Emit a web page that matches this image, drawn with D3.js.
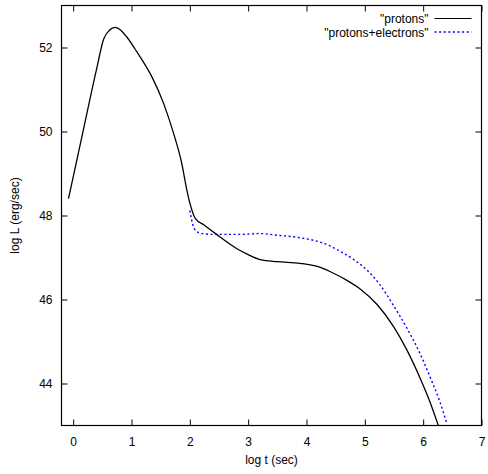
<!DOCTYPE html>
<html>
<head>
<meta charset="utf-8">
<script src="https://cdn.jsdelivr.net/npm/d3@7"></script>
<style>
  body { margin: 0; background: #fff; }
  text { font-family: "Liberation Sans", Arial, sans-serif; font-size: 12px; fill: #000; }
</style>
</head>
<body>
<div id="chart"></div>
<script>
// curve data
var protonsT = [-0.08, 0.15, 0.41, 0.52, 0.62, 0.72, 0.8, 0.92, 1.09, 1.35, 1.55, 1.72, 1.86, 1.95, 2.0, 2.09, 2.25, 2.43, 2.83, 3.0, 3.21, 3.5, 3.89, 4.2, 4.41, 4.7, 4.92, 5.21, 5.49, 5.72, 5.95, 6.12, 6.26];
var protonsL = [48.4, 49.88, 51.54, 52.19, 52.41, 52.48, 52.43, 52.25, 51.9, 51.3, 50.67, 49.96, 49.25, 48.6, 48.3, 47.94, 47.77, 47.58, 47.19, 47.07, 46.95, 46.9, 46.86, 46.78, 46.66, 46.45, 46.25, 45.88, 45.36, 44.8, 44.12, 43.55, 43.0];

var electronsT = [2.0, 2.06, 2.12, 2.18, 2.4, 2.86, 3.2, 3.5, 3.89, 4.2, 4.41, 4.6, 4.8, 5.03, 5.26, 5.49, 5.72, 5.95, 6.12, 6.29, 6.41];
var electronsL = [48.12, 47.74, 47.62, 47.58, 47.55, 47.55, 47.57, 47.53, 47.47, 47.38, 47.27, 47.13, 46.96, 46.71, 46.35, 45.86, 45.32, 44.7, 44.15, 43.55, 43.03];

var xTicks = [0, 1, 2, 3, 4, 5, 6, 7];
var yTicks = [44, 46, 48, 50, 52];
var seriesNames = ['"protons"', '"protons+electrons"'];

// svg area
var svgWidth = 488;
var svgHeight = 474;

var margin = { top: 5.5, bottom: 48.5, right: 6.5, left: 61.5 };
var width = svgWidth - margin.left - margin.right;
var height = svgHeight - margin.top - margin.bottom;

var svg = d3.select('#chart')
    .append('svg')
    .attr('width', svgWidth)
    .attr('height', svgHeight);

var chartGroup = svg.append('g')
    .attr('transform', `translate(${margin.left}, ${margin.top})`);

var x = d3.scaleLinear().domain([-0.2, 7]).range([0, width]);
var y = d3.scaleLinear().domain([43, 53]).range([height, 0]);

// ticks point inward, mirrored on the top and right
var tickLen = 6;
chartGroup.append('g')
    .attr('transform', `translate(0, ${height})`)
    .call(d3.axisBottom(x).tickValues(xTicks).tickSizeInner(-tickLen).tickSizeOuter(0).tickPadding(12))
    .call(g => g.select('.domain').remove());

chartGroup.append('g')
    .call(d3.axisTop(x).tickValues(xTicks).tickSizeInner(-tickLen).tickSizeOuter(0).tickFormat(''))
    .call(g => g.select('.domain').remove());

chartGroup.append('g')
    .call(d3.axisLeft(y).tickValues(yTicks).tickSizeInner(-tickLen).tickSizeOuter(0).tickPadding(9))
    .call(g => g.select('.domain').remove());

chartGroup.append('g')
    .attr('transform', `translate(${width}, 0)`)
    .call(d3.axisRight(y).tickValues(yTicks).tickSizeInner(-tickLen).tickSizeOuter(0).tickFormat(''))
    .call(g => g.select('.domain').remove());

chartGroup.selectAll('.tick text')
    .style('font-family', '"Liberation Sans", Arial, sans-serif')
    .style('font-size', '12px')
    .attr('fill', '#000');

chartGroup.selectAll('.tick line').attr('stroke', '#000');

svg.append('clipPath')
    .attr('id', 'plotClip')
    .append('rect')
    .attr('width', width)
    .attr('height', height);

var line = d3.line()
    .x(d => x(d[0]))
    .y(d => y(d[1]))
    .curve(d3.curveMonotoneX);

var protons = protonsT.map((t, i) => [t, protonsL[i]]);
var electrons = electronsT.map((t, i) => [t, electronsL[i]]);

var plot = chartGroup.append('g').attr('clip-path', 'url(#plotClip)');

plot.append('path')
    .datum(electrons)
    .attr('d', line)
    .attr('fill', 'none')
    .attr('stroke', '#0000ff')
    .attr('stroke-width', 1.4)
    .attr('stroke-dasharray', '2,2.6');

plot.append('path')
    .datum(protons)
    .attr('d', line)
    .attr('fill', 'none')
    .attr('stroke', '#000')
    .attr('stroke-width', 1.3);

// frame
chartGroup.append('rect')
    .attr('width', width)
    .attr('height', height)
    .attr('fill', 'none')
    .attr('stroke', '#000')
    .attr('stroke-width', 1.2);

// legend
var legend = chartGroup.append('g')
    .attr('transform', `translate(${width - 53}, 13)`);

legend.append('text')
    .attr('x', 0)
    .attr('y', 4)
    .attr('text-anchor', 'end')
    .text(seriesNames[0]);
legend.append('line')
    .attr('x1', 6).attr('x2', 43)
    .attr('y1', 0).attr('y2', 0)
    .attr('stroke', '#000')
    .attr('stroke-width', 1.2);

legend.append('text')
    .attr('x', 0)
    .attr('y', 18)
    .attr('text-anchor', 'end')
    .text(seriesNames[1]);
legend.append('line')
    .attr('x1', 6).attr('x2', 43)
    .attr('y1', 13.5).attr('y2', 13.5)
    .attr('stroke', '#0000ff')
    .attr('stroke-width', 1.4)
    .attr('stroke-dasharray', '2,2.6');

// axis labels
chartGroup.append('text')
    .attr('x', width / 2)
    .attr('y', height + 38)
    .attr('text-anchor', 'middle')
    .text('log t (sec)');

chartGroup.append('text')
    .attr('transform', `translate(${15 - margin.left}, ${height / 2}) rotate(-90)`)
    .attr('dy', '0.35em')
    .attr('text-anchor', 'middle')
    .text('log L (erg/sec)');
</script>
</body>
</html>
